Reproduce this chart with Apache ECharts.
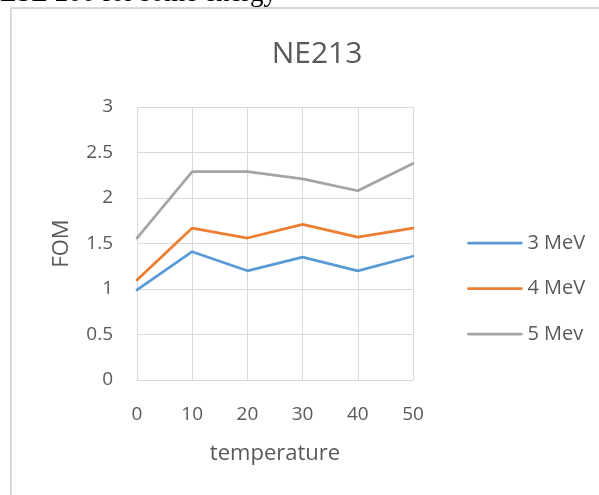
<!DOCTYPE html>
<html>
<head>
<meta charset="utf-8">
<script src="https://cdn.jsdelivr.net/npm/echarts@6/dist/echarts.min.js"></script>
<style>html,body{margin:0;padding:0;background:#fff;}#c{width:599px;height:495px;}</style>
</head>
<body>
<div id="c"></div>
<script>
const categories = ['0', '10', '20', '30', '40', '50'];
const seriesNames = ['3 MeV', '4 MeV', '5 Mev'];
const mev3 = [0.99, 1.41, 1.20, 1.35, 1.20, 1.36];
const mev4 = [1.10, 1.67, 1.56, 1.71, 1.57, 1.67];
const mev5 = [1.56, 2.29, 2.29, 2.21, 2.08, 2.38];
const colors = ['#5B9BD5', '#ED7D31', '#A5A5A5'];
const FONT = 'Open Sans';
const TXT = '#595959';
const GRID = '#D9D9D9';

const chart = echarts.init(document.getElementById('c'));
const mk = (name, data, i) => ({
  name, type: 'line', data, symbol: 'none', showSymbol: false,
  lineStyle: { width: 2.75, color: colors[i], cap: 'round', join: 'round' },
  itemStyle: { color: colors[i] }
});
chart.setOption({
  animation: false,
  title: {
    text: 'NE213', left: 312, top: 34, textAlign: 'center',
    textStyle: { fontFamily: FONT, fontSize: 30, fontWeight: 'normal', color: TXT }
  },
  legend: {
    orient: 'vertical', left: 467, top: 233, padding: 0,
    itemWidth: 53, itemHeight: 20, itemGap: 25.5,
    data: seriesNames,
    itemStyle: { opacity: 0 },
    lineStyle: { width: 2.75 },
    textStyle: { fontFamily: FONT, fontSize: 20, color: TXT, padding: [0, 0, 0, 1] }
  },
  grid: { left: 137, right: 186, top: 107, bottom: 115 },
  xAxis: {
    type: 'category', data: categories, boundaryGap: false,
    name: 'temperature', nameLocation: 'middle', nameGap: 63,
    nameTextStyle: { fontFamily: FONT, fontSize: 22, color: TXT },
    axisLine: { lineStyle: { color: GRID, width: 1 } },
    axisTick: { show: false },
    axisLabel: { fontFamily: FONT, fontSize: 19, color: TXT, margin: 25 },
    splitLine: { show: true, lineStyle: { color: GRID, width: 1 } }
  },
  yAxis: {
    type: 'value', min: 0, max: 3, interval: 0.5,
    name: 'FOM', nameLocation: 'middle', nameGap: 64,
    nameTextStyle: { fontFamily: FONT, fontSize: 22, color: TXT },
    axisLine: { show: false }, axisTick: { show: false },
    axisLabel: { fontFamily: FONT, fontSize: 19, color: TXT, margin: 24 },
    splitLine: { lineStyle: { color: GRID, width: 1 } }
  },
  graphic: [
    { type: 'line', shape: { x1: 11, y1: 8, x2: 11, y2: 495 }, style: { stroke: GRID, lineWidth: 2 } },
    { type: 'line', shape: { x1: 10, y1: 8, x2: 599, y2: 8 }, style: { stroke: GRID, lineWidth: 2 } },
    { type: 'text', x: 0, y: -20, style: { text: 'ESL 200 for some energy', fontFamily: 'Liberation Serif', fontSize: 27, fill: '#000' } }
  ],
  series: [mk(seriesNames[0], mev3, 0), mk(seriesNames[1], mev4, 1), mk(seriesNames[2], mev5, 2)]
});
</script>
</body>
</html>
